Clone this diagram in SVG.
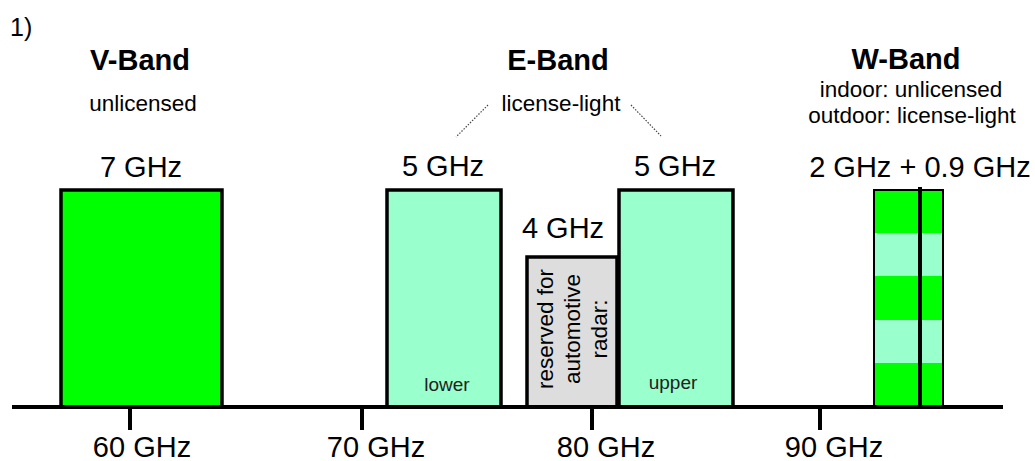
<svg xmlns="http://www.w3.org/2000/svg" width="1035" height="461" viewBox="0 0 1035 461">
<style>
text{font-family:"Liberation Sans",Arial,sans-serif;fill:#000}
.title{font-size:29px;font-weight:bold;text-anchor:middle}
.sub{font-size:22.5px;text-anchor:middle}
.ghz{font-size:29px;text-anchor:middle}
.small{font-size:19px;text-anchor:middle;fill:#222}
.rot{font-size:22.5px;text-anchor:middle}
.bar{stroke:#000;stroke-width:3.5}
.green{fill:#00FF00}
.mint{fill:#99FFCC}
.gray{fill:#DDDDDD}
.axis{stroke:#000;stroke-width:4;fill:none}
.dot{stroke:#444;stroke-width:1.2;stroke-dasharray:1.5 1.5;fill:none}
</style>
<text x="10" y="36" font-size="25">1)</text>
<g id="vband">
<text class="title" x="140" y="70">V-Band</text>
<text class="sub" x="143" y="111">unlicensed</text>
<text class="ghz" x="141" y="177">7 GHz</text>
<rect class="bar green" x="61" y="190" width="161" height="217"/>
</g>
<g id="eband">
<text class="title" x="558" y="70">E-Band</text>
<text class="sub" x="561" y="111">license-light</text>
</g>
<g id="eband-lower">
<text class="ghz" x="443" y="176">5 GHz</text>
<rect class="bar mint" x="387" y="190" width="114" height="217"/>
<text class="small" x="447" y="391">lower</text>
</g>
<g id="radar">
<text class="ghz" x="563" y="238">4 GHz</text>
<rect class="bar gray" x="527" y="257" width="90" height="150"/>
<text class="rot" transform="translate(553,329) rotate(-90)">reserved for</text>
<text class="rot" transform="translate(580,329) rotate(-90)">automotive</text>
<text class="rot" transform="translate(607,329) rotate(-90)">radar:</text>
</g>
<g id="eband-upper">
<text class="ghz" x="675" y="176">5 GHz</text>
<rect class="bar mint" x="619" y="190" width="114" height="217"/>
<text class="small" x="673" y="389">upper</text>
</g>
<g id="wband">
<text class="title" x="906" y="69">W-Band</text>
<text class="sub" x="911" y="97">indoor: unlicensed</text>
<text class="sub" x="912" y="123">outdoor: license-light</text>
<text class="ghz" x="920" y="177">2 GHz + 0.9 GHz</text>
<rect class="green" x="874" y="190" width="69" height="43"/>
<rect class="mint" x="874" y="233" width="69" height="43"/>
<rect class="green" x="874" y="276" width="69" height="44"/>
<rect class="mint" x="874" y="320" width="69" height="43"/>
<rect class="green" x="874" y="363" width="69" height="44"/>
<rect x="874" y="190" width="69" height="217" fill="none" stroke="#000" stroke-width="2"/>
<line x1="920" y1="187" x2="920" y2="407" stroke="#000" stroke-width="4"/>
</g>
<g id="connectors">
<line class="dot" x1="488" y1="105" x2="456" y2="137"/>
<line class="dot" x1="631" y1="105" x2="661" y2="136"/>
</g>
<g id="axis">
<line class="axis" x1="12" y1="407" x2="1003" y2="407"/>
<line class="axis" x1="130" y1="407" x2="130" y2="430"/>
<line class="axis" x1="362" y1="407" x2="362" y2="430"/>
<line class="axis" x1="592" y1="407" x2="592" y2="430"/>
<line class="axis" x1="820" y1="407" x2="820" y2="430"/>
<text class="ghz" x="142" y="457">60 GHz</text>
<text class="ghz" x="376" y="457">70 GHz</text>
<text class="ghz" x="606" y="457">80 GHz</text>
<text class="ghz" x="834" y="457">90 GHz</text>
</g>
</svg>
